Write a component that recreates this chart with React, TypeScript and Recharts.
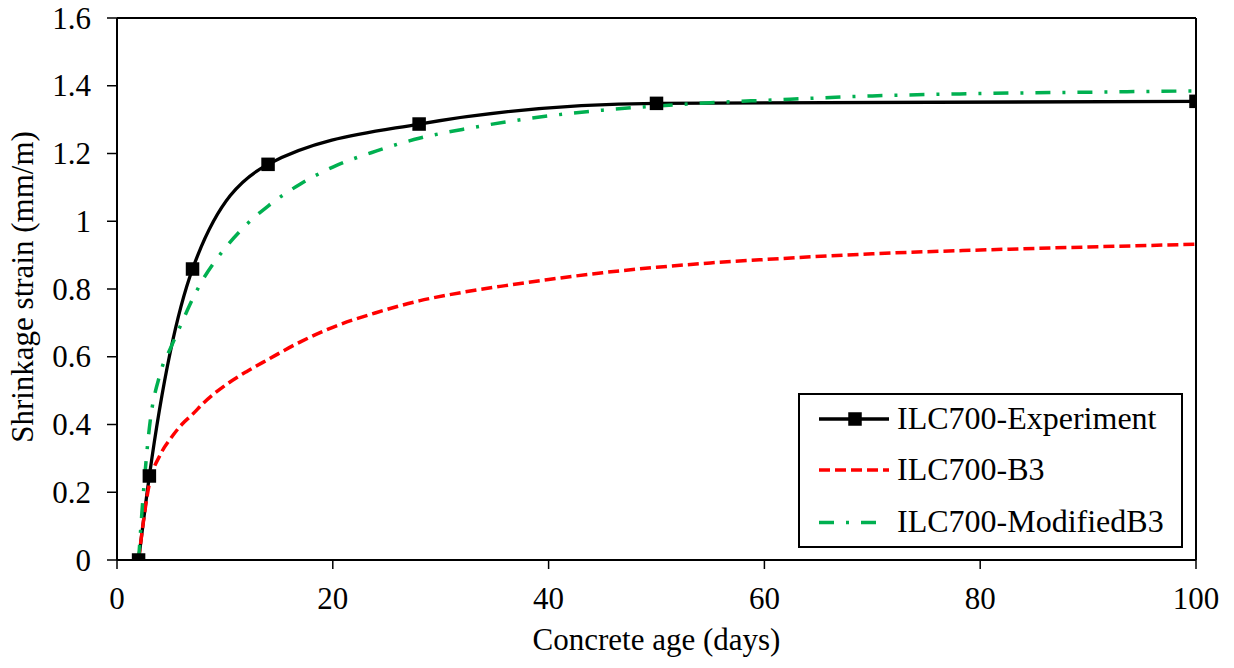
import React from 'react';
import { LineChart, Line, XAxis, YAxis, ReferenceLine, Label } from 'recharts';

const FONT = '"Liberation Serif", "Times New Roman", serif';

// Experiment
const expDays = [2, 3, 7, 14, 28, 50, 100];
const expStrain = [0, 0.248, 0.859, 1.168, 1.287, 1.348, 1.354];

// B3 model
const b3Days = [2, 3, 4, 5, 6, 7, 8, 10, 12, 14, 17, 20, 24, 28, 32, 36, 40, 45, 50, 55, 60, 70, 80, 90, 100];
const b3Strain = [0, 0.225, 0.31, 0.36, 0.4, 0.43, 0.463, 0.515, 0.556, 0.592, 0.644, 0.687, 0.73, 0.765, 0.79, 0.81, 0.828, 0.848, 0.864, 0.877, 0.887, 0.904, 0.915, 0.924, 0.932];

// Modified B3 model
const modDays = [2, 2.5, 3, 4, 5, 6, 7, 8, 9, 10, 12, 14, 17, 20, 24, 28, 32, 36, 40, 45, 50, 55, 60, 70, 80, 90, 100];
const modStrain = [0, 0.22, 0.39, 0.55, 0.628, 0.7, 0.77, 0.83, 0.878, 0.92, 0.99, 1.045, 1.11, 1.16, 1.207, 1.245, 1.271, 1.293, 1.311, 1.328, 1.34, 1.35, 1.357, 1.37, 1.377, 1.381, 1.385];

const xTicks = [0, 20, 40, 60, 80, 100];
const yTicks = [0, 0.2, 0.4, 0.6, 0.8, 1, 1.2, 1.4, 1.6];

const seriesNames = ['ILC700-Experiment', 'ILC700-B3', 'ILC700-ModifiedB3'];

const expData = expDays.map((d, i) => ({ day: d, v: expStrain[i] }));
const b3Data = b3Days.map((d, i) => ({ day: d, v: b3Strain[i] }));
const modData = modDays.map((d, i) => ({ day: d, v: modStrain[i] }));

const RED_DASH = '11 5';
const GREEN_DASH = '15 12 3 12';

const SquareDot = (props: any) => {
  const { cx, cy, index } = props;
  if (cx == null || cy == null) return <g key={`sq-${index}`} />;
  return <rect key={`sq-${index}`} x={cx - 6.75} y={cy - 6.75} width={13.5} height={13.5} fill="#000" />;
};

const XTick = (props: any) => {
  const { x, y, payload } = props;
  return (
    <text x={x} y={y + 22} textAnchor="middle" fontSize={31} fontFamily={FONT} fill="#000">
      {String(payload.value)}
    </text>
  );
};

const YTick = (props: any) => {
  const { x, y, payload } = props;
  return (
    <text x={x} y={y + 10.5} textAnchor="end" fontSize={31} fontFamily={FONT} fill="#000">
      {String(payload.value)}
    </text>
  );
};

const LegendBox = () => (
  <div style={{ position: 'absolute', left: 798, top: 393, width: 385, height: 155, boxSizing: 'border-box', border: '2px solid #000', background: '#fff' }}>
    <svg width={385} height={155} style={{ position: 'absolute', left: -2, top: -2 }}>
      <line x1={21} x2={91} y1={26} y2={26} stroke="#000" strokeWidth={3.3} />
      <rect x={50.25} y={19.25} width={13.5} height={13.5} fill="#000" />
      <text x={99} y={36} fontSize={32} fontFamily={FONT} fill="#000">{seriesNames[0]}</text>
      <line x1={21} x2={91} y1={77} y2={77} stroke="#FF0000" strokeWidth={3.5} strokeDasharray={RED_DASH} />
      <text x={99} y={87} fontSize={32} fontFamily={FONT} fill="#000">{seriesNames[1]}</text>
      <line x1={21} x2={81} y1={129.5} y2={129.5} stroke="#00B050" strokeWidth={3.5} strokeDasharray={GREEN_DASH} />
      <text x={99} y={139} fontSize={32} fontFamily={FONT} fill="#000">{seriesNames[2]}</text>
    </svg>
  </div>
);

const YLabel = () => (
  <text x={33} y={287} transform="rotate(-90, 33, 287)" textAnchor="middle" fontSize={31} fontFamily={FONT} fill="#000">
    Shrinkage strain (mm/m)
  </text>
);

const XLabel = () => (
  <text x={656.5} y={650} textAnchor="middle" fontSize={31} fontFamily={FONT} fill="#000">
    Concrete age (days)
  </text>
);

export default function App() {
  return (
    <div style={{ position: 'absolute', left: 0, top: 0, width: 1234, height: 668, background: '#fff', fontFamily: FONT }}>
      <LineChart width={1234} height={668} margin={{ top: 18, right: 38, left: 0, bottom: 0 }} style={{ fontFamily: FONT }}>
        <XAxis
          type="number"
          dataKey="day"
          domain={[0, 100]}
          ticks={xTicks}
          allowDataOverflow
          height={108}
          axisLine={{ stroke: '#000', strokeWidth: 2 }}
          tickLine={{ stroke: '#000', strokeWidth: 1.5 }}
          tickSize={9}
          tickMargin={18}
          interval={0}
          tick={<XTick />}
        >
          <Label content={<XLabel />} />
        </XAxis>
        <YAxis
          type="number"
          domain={[0, 1.6]}
          ticks={yTicks}
          allowDataOverflow
          width={117}
          axisLine={{ stroke: '#000', strokeWidth: 2 }}
          tickLine={{ stroke: '#000', strokeWidth: 1.5 }}
          tickSize={10}
          tickMargin={16}
          interval={0}
          tick={<YTick />}
        >
          <Label content={<YLabel />} />
        </YAxis>
        <ReferenceLine y={1.6} stroke="#000" strokeWidth={2} />
        <ReferenceLine x={100} stroke="#000" strokeWidth={2} />
        <Line
          data={expData}
          dataKey="v"
          name={seriesNames[0]}
          type="monotone"
          stroke="#000"
          strokeWidth={3.3}
          dot={<SquareDot />}
          activeDot={false}
          isAnimationActive={false}
        />
        <Line
          data={b3Data}
          dataKey="v"
          name={seriesNames[1]}
          type="monotone"
          stroke="#FF0000"
          strokeWidth={3.5}
          strokeDasharray={RED_DASH}
          dot={false}
          activeDot={false}
          isAnimationActive={false}
        />
        <Line
          data={modData}
          dataKey="v"
          name={seriesNames[2]}
          type="monotone"
          stroke="#00B050"
          strokeWidth={3.5}
          strokeDasharray={GREEN_DASH}
          dot={false}
          activeDot={false}
          isAnimationActive={false}
        />
      </LineChart>
      <LegendBox />
    </div>
  );
}
